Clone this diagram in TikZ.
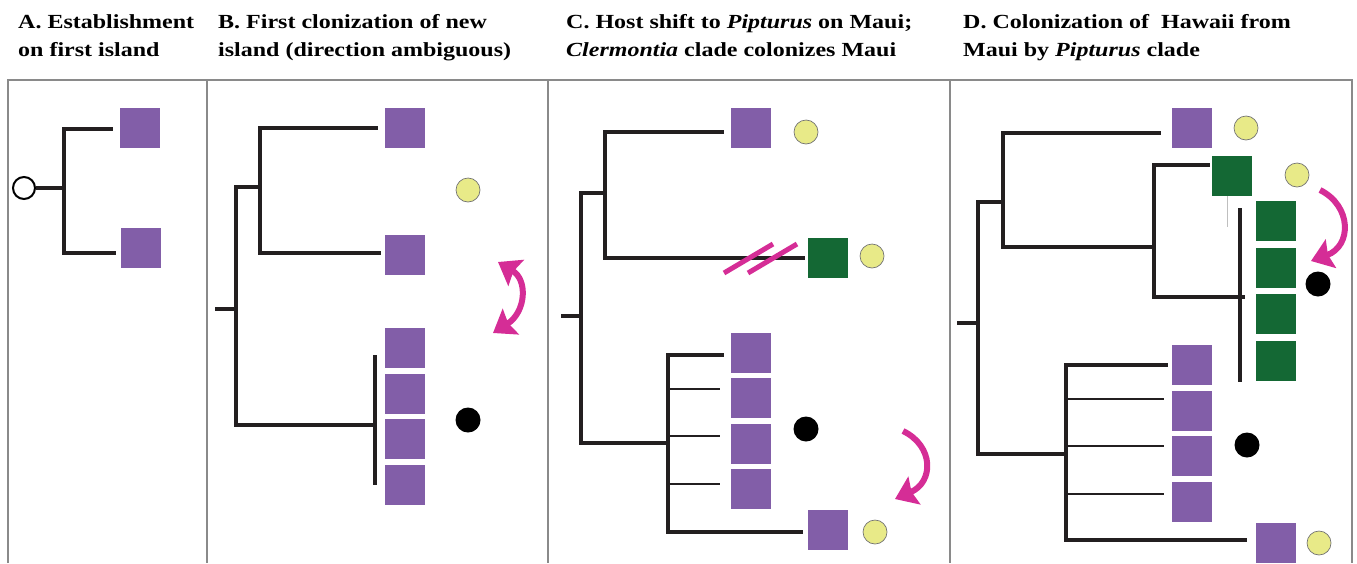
\documentclass[tikz,border=0pt]{standalone}
\usepackage{fontspec}
\setmainfont{Liberation Serif}
\newfontfamily\titlefont[FakeStretch=1.2]{Liberation Serif}
\usetikzlibrary{arrows.meta,positioning}
\definecolor{purp}{HTML}{825EA8}
\definecolor{grn}{HTML}{146834}
\definecolor{hostyel}{HTML}{E8EA88}
\definecolor{shiftmag}{HTML}{D52D96}
\definecolor{treeblk}{HTML}{231F20}
\definecolor{framegray}{HTML}{8A8A8A}
\tikzset{
  panel/.style={draw=framegray, line width=1.6pt},
  title/.style={anchor=north west, align=left, inner sep=0pt,
    font=\titlefont\fontsize{20}{28}\selectfont\bfseries},
  tip/.style={rectangle, minimum size=40pt, inner sep=0pt},
  purpbox/.style={tip, fill=purp},
  grnbox/.style={tip, fill=grn},
  hostdot/.style={circle, fill=hostyel, draw=black!55, line width=0.7pt,
    minimum size=24pt, inner sep=0pt},
  areadot/.style={circle, fill=black, minimum size=25pt, inner sep=0pt},
  ancdot/.style={circle, draw=black, line width=2pt, minimum size=22pt, inner sep=0pt},
  branch/.style={draw=treeblk, line width=4pt},
  twig/.style={draw=treeblk, line width=2pt},
  slash/.style={draw=shiftmag, line width=5pt},
  move/.style={draw=shiftmag, line width=6pt,
    -{Stealth[length=21pt,width=30pt,inset=3pt]}},
}

\begin{document}
\begin{tikzpicture}[x=1pt, y=-1pt]
\useasboundingbox (0,0) rectangle (1357,563);

% panel frames
\draw[panel] (8,563) |- (1352,80) -- (1352,563);
\foreach \x in {207,548,950} {
  \draw[panel] (\x,80) -- (\x,563);
}

% titles
\node[title] (tA) at (18,14) {A. Establishment\\on first island};
\node[title] (tB) at (218,14) {B. First clonization of new\\island (direction ambiguous)};
\node[title] (tC) at (566,14) {C. Host shift to \textit{Pipturus} on Maui;\\\textit{Clermontia} clade colonizes Maui};
\node[title] (tD) at (963,14) {D. Colonization of~ Hawaii from\\Maui by \textit{Pipturus} clade};

%%% A
\node[ancdot] (a0) at (24,188) {};
\node[purpbox] (a1) at (140,128) {};
\node[purpbox] (a2) at (141,248) {};
\coordinate (aj) at (64,188);
\draw[branch] ([xshift=-7pt,yshift=-1pt]a1.west) -| (aj) |- ([xshift=-5pt,yshift=-5pt]a2.west);
\draw[branch] (a0) -- (aj);

%%% B
\node[purpbox] (b1) at (405,128) {};
\node[purpbox] (b2) at (405,255) {};
\foreach \y [count=\i from 3] in {348,394,439,485} {
  \node[purpbox] (b\i) at (405,\y) {};
}
\node[hostdot] (bh) at (468,190) {};
\node[areadot] (ba) at (468,420) {};
\coordinate (bs) at (215,309);
\coordinate (br) at (236,309);
\coordinate (bu) at (260,187);
\coordinate (bp) at (375,425);
\draw[branch] ([xshift=-7pt]b1.west) -| (bu) |- ([xshift=-4pt,yshift=2pt]b2.west);
\draw[branch] (bu) -| (br) |- (bp);
\draw[branch] (bs) -- (br);
\draw[branch] (375,355) -- (375,485);
\draw[move, {Stealth[length=21pt,width=30pt,inset=3pt]}-{Stealth[length=21pt,width=30pt,inset=3pt]}]
  (493,333) .. controls (526,312) and (528,280) .. (498,262);

%%% C
\node[purpbox] (c1) at (751,128) {};
\node[hostdot] (c1h) at (806,132) {};
\node[grnbox] (c2) at (828,258) {};
\node[hostdot] (c2h) at (872,256) {};
\foreach \y [count=\i from 3] in {353,398,444,489} {
  \node[purpbox] (c\i) at (751,\y) {};
}
\node[areadot] (ca) at (806,429) {};
\node[purpbox] (c7) at (828,530) {};
\node[hostdot] (c7h) at (875,532) {};
\coordinate (cs) at (561,316);
\coordinate (cr) at (581,316);
\coordinate (cu) at (605,193);
\coordinate (cl) at (668,443);
\draw[branch] ([xshift=-7pt,yshift=-4pt]c1.west) -| (cu) |- ([xshift=-3pt]c2.west);
\draw[branch] (cu) -| (cr) |- (cl);
\draw[branch] (cs) -- (cr);
\draw[branch] ([xshift=-7pt,yshift=-2pt]c3.west) -| (cl) |- ([xshift=-5pt,yshift=-2pt]c7.west);
\foreach \k/\d in {4/9,5/8,6/5} {
  \coordinate (ct\k) at ([xshift=-11pt,yshift=\d pt]c\k.west);
  \draw[twig] (ct\k) -- (ct\k -| cl);
}
\draw[slash] (724,273) -- (773,244);
\draw[slash] (748,273) -- (797,244);
\draw[move] (903,431) .. controls (934,446) and (934,482) .. (895,499);

%%% D
\node[purpbox] (d1) at (1192,128) {};
\node[hostdot] (d1h) at (1246,128) {};
\node[grnbox] (d2) at (1232,176) {};
\node[hostdot] (d2h) at (1297,175) {};
\foreach \y [count=\i from 3] in {221,268,314,361} {
  \node[grnbox] (d\i) at (1276,\y) {};
}
\node[areadot] (da) at (1318,284) {};
\foreach \y [count=\i from 7] in {365,411,456,502} {
  \node[purpbox] (d\i) at (1192,\y) {};
}
\node[areadot] (db) at (1247,445) {};
\node[purpbox] (d11) at (1276,543) {};
\node[hostdot] (d11h) at (1319,543) {};
\coordinate (ds) at (957,323);
\coordinate (dr) at (978,323);
\coordinate (du) at (1003,202);
\coordinate (dm) at (1154,247);
\coordinate (dg) at (1245,297);
\coordinate (dl) at (1066,454);
\draw[branch] ([xshift=-11pt,yshift=-5pt]d1.west) -| (du) |- (dm);
\draw[branch] ([xshift=-2pt,yshift=11pt]d2.west) -| (dm) |- (dg);
\draw[branch] (du) -| (dr) |- (dl);
\draw[branch] (ds) -- (dr);
\draw[branch] (1240,208) -- (1240,382);
\draw[draw=black!25, line width=0.5pt] (1227,196) -- (1227,227);
\draw[branch] ([xshift=-4pt]d7.west) -| (dl) |- ([xshift=-9pt,yshift=3pt]d11.west);
\foreach \k/\d in {8/12,9/10,10/8} {
  \coordinate (dt\k) at ([xshift=-8pt,yshift=\d pt]d\k.west);
  \draw[twig] (dt\k) -- (dt\k -| dl);
}
\draw[move] (1320,190) .. controls (1352,206) and (1352,246) .. (1311,261);

\end{tikzpicture}
\end{document}
